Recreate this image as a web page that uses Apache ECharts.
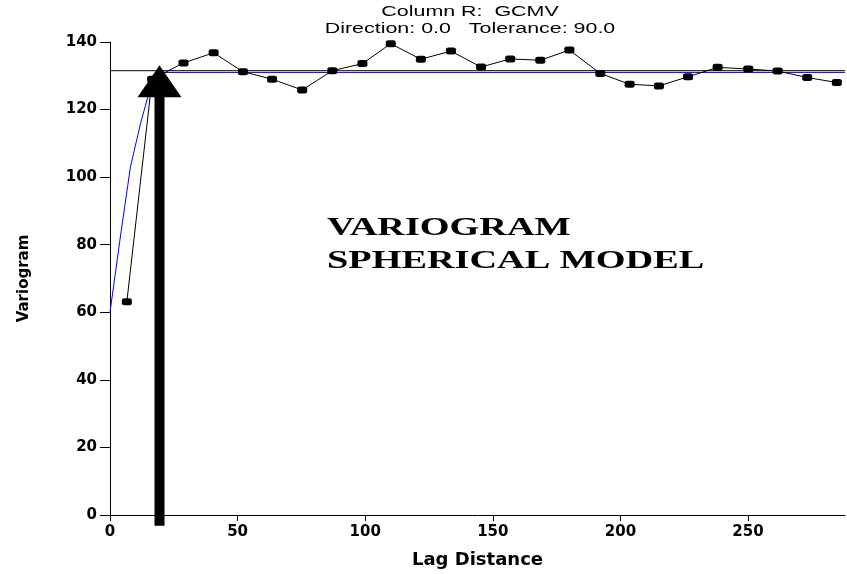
<!DOCTYPE html>
<html>
<head>
<meta charset="utf-8">
<script src="https://cdn.jsdelivr.net/npm/echarts@6/dist/echarts.min.js"></script>
<style>
  html, body { margin: 0; padding: 0; background: #fff; }
  #chart { width: 847px; height: 574px; }
</style>
</head>
<body>
<div id="chart"></div>
<script>
// experimental variogram (lag, gamma)
const lagX = [6.6, 16.5, 28.8, 40.6, 52.1, 63.5, 75.3, 87.1, 98.9, 110.0, 121.8, 133.6, 145.4,
    156.8, 168.6, 180.0, 192.1, 203.6, 215.1, 226.5, 238.1, 250.1, 261.6, 273.2, 284.8];
const gammaY = [63.1, 129.0, 133.8, 136.8, 131.2, 129.0, 125.8, 131.5, 133.6, 139.5, 134.9, 137.3, 132.6,
    135.0, 134.6, 137.6, 130.7, 127.5, 127.0, 129.7, 132.5, 132.0, 131.4, 129.5, 128.0];

// spherical model curve
const modelX = [0, 4, 8, 12, 16, 20, 288];
const modelY = [60, 82, 103, 116, 127, 131, 131];

// sample variance line
const sillX = [0, 288];
const sillY = [131.5, 131.5];

// arrow marking the range: shaft from / to, head centre
const arrowX = 19.4;
const arrowShaft = [-3.2, 126];
const arrowHead = 128.4;

const xTicks = [0, 50, 100, 150, 200, 250];
const yTicks = [0, 20, 40, 60, 80, 100, 120, 140];

const titleLines = ['Column R:  GCMV', 'Direction: 0.0   Tolerance: 90.0'];
const noteLines = ['VARIOGRAM', 'SPHERICAL MODEL'];

const chart = echarts.init(document.getElementById('chart'));

const pairs = function (xs, ys) {
    return xs.map(function (x, i) { return [x, ys[i]]; });
};

const labelFont = {
    color: '#000',
    fontFamily: 'DejaVu Sans',
    fontWeight: 'bold',
    fontSize: 15
};

const option = {
    animation: false,
    backgroundColor: '#fff',
    grid: {
        left: 110,
        right: 2,
        top: 42,
        bottom: 57
    },
    xAxis: {
        type: 'value',
        min: 0,
        max: 288,
        name: 'Lag Distance',
        nameLocation: 'middle',
        nameGap: 36,
        nameTextStyle: {
            color: '#000',
            fontFamily: 'DejaVu Sans',
            fontWeight: 'bold',
            fontSize: 18
        },
        axisLine: { lineStyle: { color: '#000', width: 1 } },
        axisTick: { length: 6, customValues: xTicks, lineStyle: { color: '#000' } },
        axisLabel: Object.assign({ margin: 10, customValues: xTicks }, labelFont),
        splitLine: { show: false }
    },
    yAxis: {
        type: 'value',
        min: 0,
        max: 140,
        name: 'Variogram',
        nameLocation: 'middle',
        nameRotate: 90,
        nameGap: 78,
        nameTextStyle: {
            color: '#000',
            fontFamily: 'DejaVu Sans',
            fontWeight: 'bold',
            fontSize: 15
        },
        axisLine: { show: true, lineStyle: { color: '#000', width: 1 } },
        axisTick: { show: true, length: 10, customValues: yTicks, lineStyle: { color: '#000' } },
        axisLabel: Object.assign({ margin: 13, customValues: yTicks }, labelFont),
        splitLine: { show: false }
    },
    series: [
        {
            name: 'Variance',
            type: 'line',
            data: pairs(sillX, sillY),
            showSymbol: false,
            silent: true,
            lineStyle: { color: '#000', width: 1 },
            z: 2
        },
        {
            name: 'Model',
            type: 'line',
            data: pairs(modelX, modelY),
            showSymbol: false,
            silent: true,
            lineStyle: { color: '#0000ff', width: 1 },
            z: 3
        },
        {
            name: 'GCMV',
            type: 'line',
            data: pairs(lagX, gammaY),
            symbol: 'roundRect',
            symbolSize: [10, 7],
            itemStyle: { color: '#000' },
            lineStyle: { color: '#000', width: 1 },
            z: 4
        },
        {
            name: 'Range',
            type: 'line',
            data: arrowShaft.map(function (v) { return [arrowX, v]; }),
            clip: false,
            silent: true,
            showSymbol: false,
            lineStyle: { color: '#000', width: 10, cap: 'butt' },
            z: 6,
            markPoint: {
                silent: true,
                symbol: 'triangle',
                symbolSize: [44, 32],
                itemStyle: { color: '#000' },
                label: { show: false },
                data: [{ coord: [arrowX, arrowHead] }]
            }
        }
    ],
    graphic: [
        {
            type: 'text', x: 470, y: 12, scaleX: 1.53, silent: true,
            style: { text: titleLines[0], x: 0, y: 0, align: 'center', verticalAlign: 'middle',
                font: '14px "Liberation Sans"', fill: '#000' }
        },
        {
            type: 'text', x: 470, y: 29, scaleX: 1.53, silent: true,
            style: { text: titleLines[1], x: 0, y: 0, align: 'center', verticalAlign: 'middle',
                font: '14px "Liberation Sans"', fill: '#000' }
        },
        {
            type: 'text', x: 327, y: 229, scaleX: 1.53, silent: true,
            style: { text: noteLines[0], x: 0, y: 0, align: 'left', verticalAlign: 'middle',
                font: 'bold 25px "Liberation Serif"', fill: '#000' }
        },
        {
            type: 'text', x: 327, y: 262, scaleX: 1.53, silent: true,
            style: { text: noteLines[1], x: 0, y: 0, align: 'left', verticalAlign: 'middle',
                font: 'bold 25px "Liberation Serif"', fill: '#000' }
        }
    ]
};

option && chart.setOption(option);
</script>
</body>
</html>
